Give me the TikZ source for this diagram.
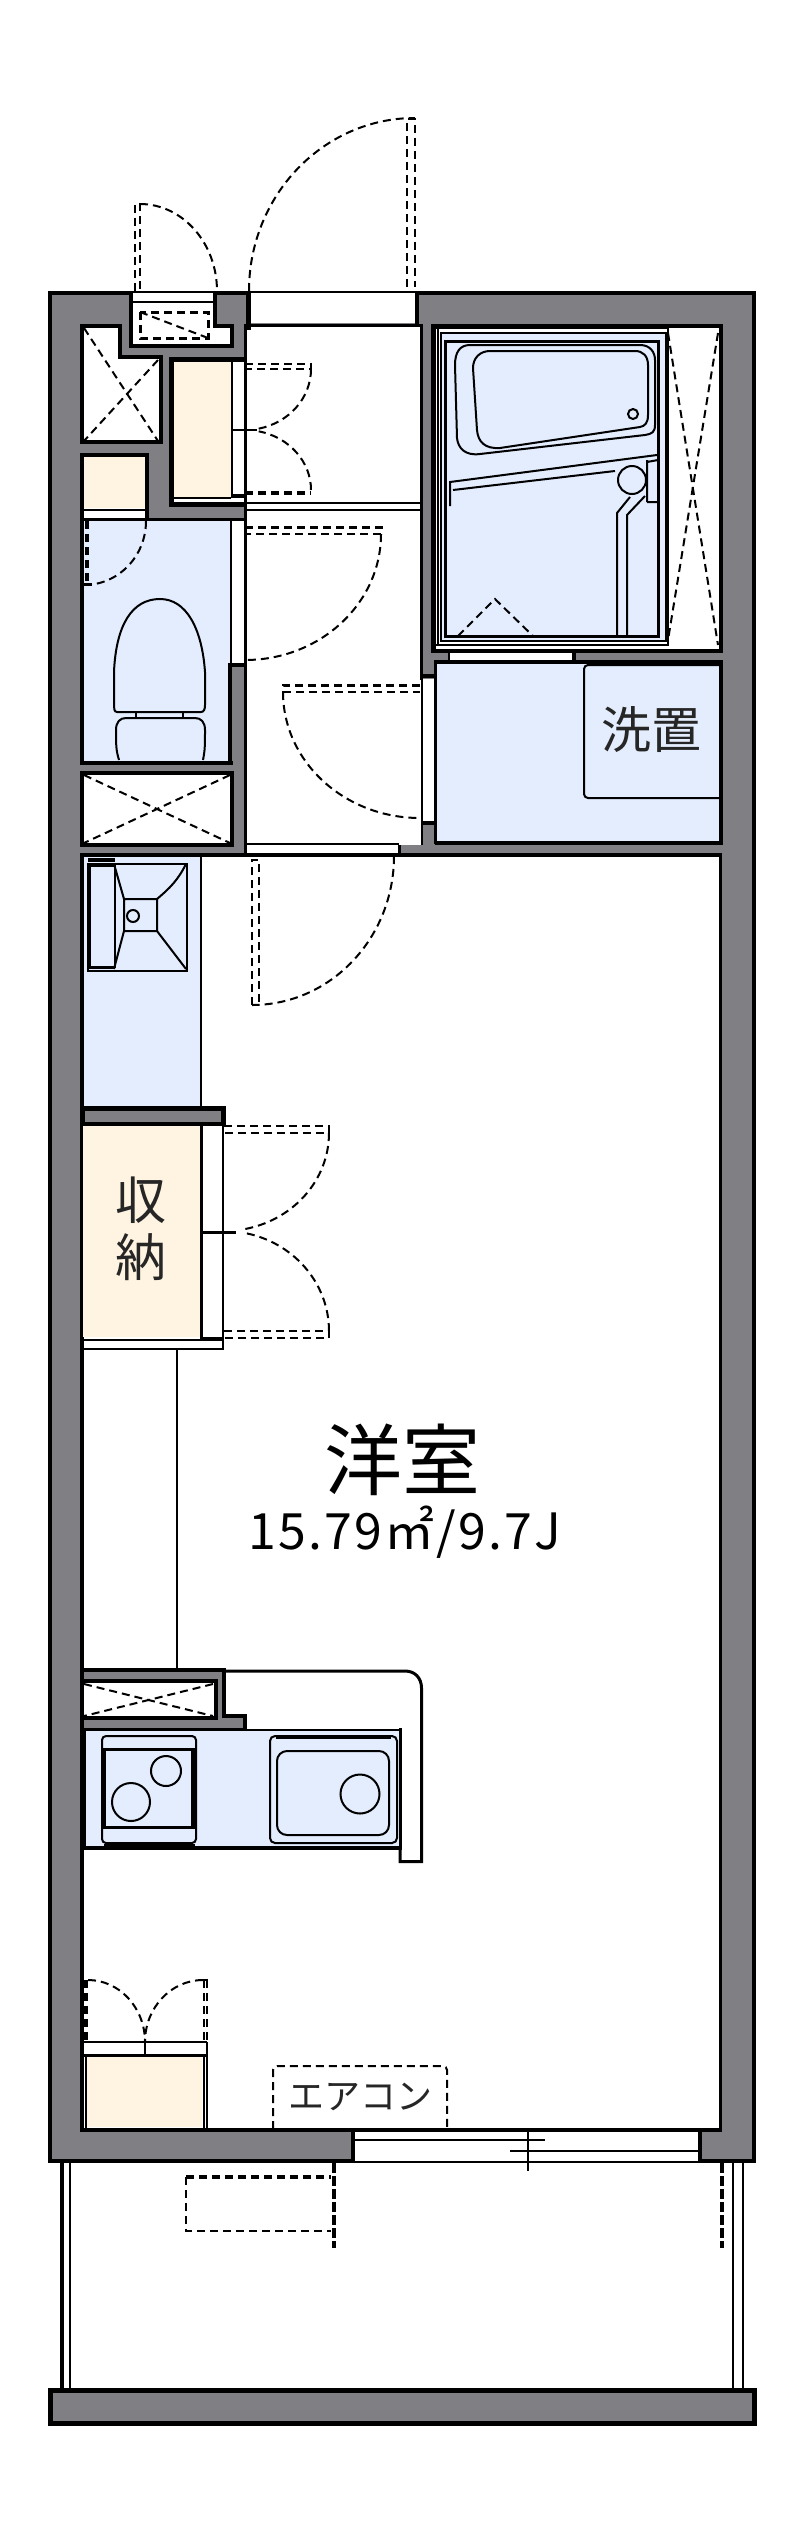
\documentclass[tikz,border=0pt]{standalone}
\usepackage{fontspec}
\newfontfamily\jp{Noto Sans CJK JP}
\newfontfamily\jpwide[LetterSpace=4.5]{Noto Sans CJK JP}
\definecolor{wallgray}{HTML}{807F84}
\definecolor{bluefl}{HTML}{E3EDFD}
\definecolor{beigefl}{HTML}{FFF4E1}
\tikzset{
  wall/.style={draw=black,line width=4pt,fill=wallgray,miter limit=10},
  room/.style={draw=black,line width=4pt,fill=white},
  thick3/.style={draw=black,line width=3pt},
  thin2/.style={draw=black,line width=2pt},
  hair/.style={draw=black,line width=1.6pt},
  dsh/.style={draw=black,line width=2pt,dash pattern=on 8pt off 5pt},
  dshthick/.style={draw=black,line width=4pt,dash pattern=on 8pt off 5pt},
  label/.style={inner sep=0pt,text=black!85,font=\jp},
}
\begin{document}
\begin{tikzpicture}[x=1pt,y=-1pt]
\path[use as bounding box,fill=white] (0,0) rectangle (800,2540);
% balcony
\draw[draw=black,line width=4pt] (62,2160) -- (62,2392);
\draw[thin2] (69.5,2160) -- (69.5,2392);
\draw[thin2] (733,2160) -- (733,2392);
\draw[thin2] (743,2160) -- (743,2392);
\draw[draw=black,line width=5pt,fill=wallgray] (50,2390.5) rectangle (754,2423.5);
% building shell
\draw[wall] (50,293) rectangle (754,2161);
% main room
\draw[room,line width=3.5pt] (82,855) rectangle (720.5,2130);
% corridor
\fill[white] (245,326) rectangle (421,845);
\draw[thick3] (245.5,324) -- (245.5,856);
\draw[thick3] (421.5,324) -- (421.5,680);
\draw[thin2] (421.5,680) -- (421.5,845);
\draw[thick3] (245,325) -- (423,325);
\draw[thin2] (245,843.5) -- (399,843.5);
\fill[white] (247,845) rectangle (398,853);
\fill[wallgray] (400,845) rectangle (424,853);
\draw[draw=black,line width=3pt] (399,845) -- (399,855);
\draw[thin2] (246,503) -- (421,503);
\draw[thin2] (246,510) -- (421,510);
% entrance opening
\fill[white] (251,293) rectangle (415,323);
\draw[thin2] (250,292) -- (416,292);
\fill[black] (246,291) rectangle (251,330);
\fill[black] (415,291) rectangle (419,325);
% meter niche
\draw[room] (131,291) -- (131,346) -- (232,346) -- (232,326) -- (215,326) -- (215,291);
\fill[white] (133,293) rectangle (213,300);
\draw[thin2] (133,302) -- (213,302);
\draw[thin2] (130,292) -- (216,292);
\draw[dsh,line width=3pt] (140,312) rectangle (208,338);
\draw[dsh] (140,312) -- (208,338);
% closet with X
\draw[room] (82,326) -- (120,326) -- (120,357) -- (161,357) -- (161,442) -- (82,442) -- cycle;
\draw[dsh] (84,328) -- (158,441);
\draw[dsh] (158,360) -- (84,441);
% shoe closet
\fill[beigefl] (174,361) rectangle (231,497);
\fill[white] (231,361) rectangle (244,502);
\fill[white] (174,497) rectangle (231,502);
\draw[draw=black,line width=5pt] (245,359) -- (171.5,359) -- (171.5,504.5) -- (245,504.5);
\draw[thin2] (231.5,361) -- (231.5,496);
\draw[thin2] (174,498) -- (231,498);
\draw[draw=black,line width=4pt] (231,495.5) -- (246,495.5);
\draw[thin2] (231,430) -- (257,430);
% beige box above toilet
\draw[room] (82,455) rectangle (147,520);
\fill[beigefl] (84,457) rectangle (145,508);
\draw[thin2] (84,509.5) -- (145,509.5);
% toilet room
\fill[bluefl] (84,521) rectangle (230,761);
\draw[draw=black,line width=3pt] (82,519.5) -- (245,519.5);
\draw[draw=black,line width=4pt] (82,519) -- (82,765) (80,763) -- (233,763);
\fill[white] (232,521) rectangle (244,664);
\draw[thin2] (231,520) -- (231,664);
\draw[draw=black,line width=4pt] (230,663) -- (230,765) (228,665) -- (245,665);
% toilet
\draw[thin2,fill=bluefl] (117,712) .. controls (114,712) and (114,708) .. (114,705) -- (114,672)
  .. controls (116,625) and (132,599) .. (160,599) .. controls (186,599) and (202,628) .. (205,672)
  -- (205,705) .. controls (205,709) and (204,712) .. (201,712) -- cycle;
\draw[thin2] (136,712) -- (136,718) (183,712) -- (183,718);
\draw[thin2,fill=bluefl] (119,760) .. controls (116,750) and (116,745) .. (116,730)
  .. controls (116,722) and (120,718) .. (126,718) -- (195,718)
  .. controls (201,718) and (205,722) .. (205,730) .. controls (205,745) and (205,750) .. (203,760);
% lower closet
\draw[room] (82,773) rectangle (232,845);
\draw[dsh] (84,775) -- (230,843);
\draw[dsh] (230,775) -- (84,843);
% vanity room
\fill[bluefl] (84,857) rectangle (200,1107);
\draw[thin2] (200.5,855) -- (200.5,1108);
\draw[draw=black,line width=4pt] (82,853) -- (82,1110);
% vanity basin
\draw[thin2] (88,864) rectangle (187,971);
\draw[draw=black,line width=4pt] (88,860) -- (115,860);
\draw[draw=black,line width=3pt] (88,967) -- (115,967);
\draw[thin2] (90,866) rectangle (115,967);
\draw[thin2] (114,864) -- (124,899) rectangle (157,931) -- (186,969);
\draw[thin2] (124,931) -- (114,969);
\draw[thin2] (124,899) -- (157,899);
\draw[thin2] (157,899) .. controls (170,888) and (178,880) .. (186,864);
\draw[thin2] (133,916) circle[radius=6];
% wall between vanity and storage
\draw[draw=black,line width=5pt,fill=wallgray] (82,1108.5) -- (223.5,1108.5) -- (223.5,1124) -- (82,1124) -- cycle;
% storage
\fill[beigefl] (83,1126) rectangle (201,1337);
\fill[white] (203,1126) rectangle (222,1337);
\fill[white] (84,1341) rectangle (222,1347);
\draw[thick3] (201.5,1124) -- (201.5,1339);
\draw[thin2] (223,1124) -- (223,1349);
\draw[thin2] (83,1348.5) -- (224,1348.5);
\draw[draw=black,line width=4pt] (201,1338.5) -- (223,1338.5);
\draw[thin2] (83,1340) -- (201,1340);
\draw[draw=black,line width=3pt] (203,1232) -- (236,1232);
\draw[thin2] (177,1349) -- (177,1668);
% kitchen stub
\draw[wall] (82,1670) -- (224,1670) -- (224,1716) -- (245,1716) -- (245,1730) -- (82,1730) -- cycle;
\draw[room] (82,1681) rectangle (215.5,1717.5);
\draw[dsh] (84,1684) -- (213,1716);
\draw[dsh] (213,1684) -- (84,1716);
% kitchen counter
\fill[bluefl] (85,1731) rectangle (399,1846);
\draw[thin2] (245,1729.5) -- (401,1729.5);
\draw[draw=black,line width=3pt] (400,1728) -- (400,1849);
\draw[draw=black,line width=4pt] (84,1848) -- (402,1848);
\draw[draw=black,line width=4pt] (84,1728) -- (84,1850);
\draw[thick3] (224,1671) -- (405,1671) .. controls (415,1671) and (421.5,1678) .. (421.5,1688) -- (421.5,1861.5) -- (400,1861.5) -- (400,1848);
% stove
\draw[thin2,rounded corners=4pt] (102,1736) rectangle (196,1843);
\draw[draw=black,line width=3pt,fill=bluefl] (104,1749) rectangle (193,1827);
\draw[draw=black,line width=4pt] (104,1748) -- (104,1828) (193,1748) -- (193,1828);
\draw[draw=black,line width=4pt] (104,1846) -- (195,1846);
\draw[thin2] (166,1771) circle[radius=15];
\draw[thin2] (131,1802) circle[radius=19];
% sink
\draw[thin2,rounded corners=5pt] (270,1736) rectangle (397,1843);
\draw[draw=black,line width=3pt] (276,1737) -- (391,1737);
\draw[thin2,rounded corners=10pt] (277,1751) rectangle (389,1835);
\draw[thin2] (360,1794) circle[radius=19.5];
% bottom-left storage
\fill[beigefl] (87,2057) rectangle (202,2127);
\fill[white] (84,2043) rectangle (206,2054);
\draw[thin2] (84,2042) -- (207,2042);
\draw[draw=black,line width=3pt] (84,2055) -- (207,2055);
\draw[thin2] (85.5,2056) -- (85.5,2128);
\draw[thin2] (203.5,2056) -- (203.5,2128);
\draw[thin2] (206.5,2042) -- (206.5,2128);
\draw[thin2] (145,2042) -- (145,2054);
% bathroom
\draw[draw=black,line width=4pt,fill=white] (433,326) rectangle (720.5,651);
\fill[white] (668,328) rectangle (718,649);
\fill[bluefl] (441,333) rectangle (667,642);
\draw[thin2] (436,328) -- (668,328) -- (668,645) -- (436,645) ;
\draw[draw=black,line width=5pt] (433,326) -- (433,651);
\draw[thin2] (438,328) rectangle (668,645);
\draw[thin2] (441,333) rectangle (666,641);
\draw[thick3] (445,341) rectangle (658,636);
\draw[dsh] (668,333) -- (718,645);
\draw[dsh] (718,333) -- (668,640);
% tub
\draw[thin2] (470,345) -- (640,345) .. controls (650,345) and (655,352) .. (655,360) -- (655,425)
   .. controls (655,432) and (652,434) .. (645,435) -- (480,454) .. controls (465,456) and (458,448) .. (457,438)
   -- (455,365) .. controls (455,352) and (460,345) .. (470,345) -- cycle;
\draw[thin2] (490,351) -- (635,351) .. controls (643,351) and (648,356) .. (648,365) -- (648,415)
   .. controls (648,423) and (645,426) .. (640,427) -- (500,448) .. controls (485,449) and (478,442) .. (477,430)
   -- (473,368) .. controls (473,358) and (480,351) .. (490,351) -- cycle;
\draw[thin2] (633,414) circle[radius=5];
\draw[thin2] (450,506) -- (450,482) -- (657,455);
\draw[thin2] (453,490) -- (615,471);
\draw[thin2,fill=bluefl] (632,480) circle[radius=14];
\draw[thin2] (647,502) -- (658,502) (647,460) -- (647,502) (647,462) -- (658,460);
\draw[thin2] (630,497) -- (617,513) -- (617,636);
\draw[thin2] (645,496) -- (627,515) -- (627,636);
\draw[dsh] (458,636) -- (495,599) -- (533,636);
% bath door strip
\fill[wallgray] (435,654) rectangle (720,661);
\fill[white] (449,653) rectangle (572,661);
\draw[draw=black,line width=4pt] (574,653) -- (574,662);
\draw[thin2] (449,653) -- (449,662);
% washroom
\fill[bluefl] (437,664) rectangle (719,841);
\draw[draw=black,line width=3.5pt] (435,662) -- (721,662);
\draw[draw=black,line width=4pt] (720.5,660) -- (720.5,845);
\draw[draw=black,line width=4pt] (435,842.5) -- (722,842.5);
\draw[draw=black,line width=3.5pt] (435.5,660) -- (435.5,844);
\fill[white] (423,679) rectangle (434,821);
\draw[thin2] (422,680) -- (422,822);
\draw[thin2] (435,680) -- (435,822);
\draw[draw=black,line width=4pt] (423,676) -- (436,676) (423,823) -- (436,823);
\draw[draw=black,line width=2pt,rounded corners=4pt] (719,665) -- (584,665) -- (584,798) -- (719,798);
% window
\fill[white] (353,2131) rectangle (700,2161);
\draw[thin2] (353,2131) -- (700,2131);
\draw[thin2] (353,2162) -- (700,2162);
\fill[black] (351,2128) rectangle (355,2163);
\fill[black] (698,2128) rectangle (702,2163);
\draw[thin2] (355,2140) -- (545,2140);
\draw[thin2] (510,2151) -- (699,2151);
\draw[thin2] (528,2131) -- (528,2171);
% door swings
\draw[dsh] (135,291) -- (135,204) -- (140,204) -- (140,291);
\draw[dsh] (140,204) arc[start angle=270,end angle=360,x radius=77,y radius=87];
\draw[dsh] (407,287) -- (407,119) -- (415,119) -- (415,287);
\draw[dsh] (249,291) arc[start angle=180,end angle=270,x radius=166,y radius=173];
\draw[dsh] (245,364) -- (311,364) -- (311,369) -- (245,369);
\draw[dsh] (311,369) arc[start angle=0,end angle=78,x radius=66,y radius=61];
\draw[dsh] (311,490) arc[start angle=0,end angle=-78,x radius=66,y radius=60];
\draw[dshthick] (245,493) -- (311,493);
\draw[dsh] (86,521) -- (86,583) (88,521) -- (88,583);
\draw[draw=black,line width=3pt] (84,584) -- (92,584);
\draw[dsh] (146,521) arc[start angle=0,end angle=90,x radius=62,y radius=64];
\draw[dsh,line width=3pt] (245,527) -- (381,527) -- (381,534);
\draw[dsh] (381,534) -- (245,534);
\draw[dsh] (381,534) arc[start angle=0,end angle=90,x radius=136,y radius=126];
\draw[dsh,line width=3pt] (420,685) -- (283,685) -- (283,692);
\draw[dsh] (283,692) -- (420,692);
\draw[dsh] (283,692) arc[start angle=180,end angle=90,x radius=137,y radius=126];
\draw[dsh] (394,856) arc[start angle=0,end angle=90,x radius=142,y radius=149];
\draw[dsh] (252,1005) -- (252,860) -- (259,860) -- (259,1005);
\draw[dsh] (224,1126) -- (329,1126) -- (329,1133) -- (224,1133);
\draw[dsh] (329,1133) arc[start angle=0,end angle=80,x radius=105,y radius=98];
\draw[dsh] (224,1331) -- (329,1331) -- (329,1338) -- (224,1338);
\draw[dsh] (329,1331) arc[start angle=0,end angle=-80,x radius=105,y radius=100];
\draw[dsh] (88,1980) arc[start angle=270,end angle=360,x radius=57,y radius=62];
\draw[dsh] (203,1980) arc[start angle=270,end angle=180,x radius=58,y radius=62];
\draw[dshthick] (86,1980) -- (86,2042);
\draw[dsh] (204,1980) -- (204,2042) (207,1980) -- (207,2042) (203,1980) -- (208,1980);
% air conditioner
\draw[dsh,rounded corners=4pt] (273,2129) -- (273,2066) -- (447,2066) -- (447,2129);
% balcony dashes
\draw[dsh,dash pattern=on 10pt off 3pt,line width=3.5pt] (334,2163) -- (334,2248);
\draw[dsh,dash pattern=on 10pt off 3pt,line width=3.5pt] (722,2163) -- (722,2248);
\draw[dsh,line width=3.5pt] (186,2177) -- (331,2177);
\draw[dsh] (186,2177) -- (186,2231) -- (331,2231);
% texts
\node[label,font=\jp\fontsize{50}{50}\selectfont] (sentaku) at (651,730) {洗置};
\node[label,font=\jp\fontsize{51}{51}\selectfont] (shuu) at (141,1200) {収};
\node[label,font=\jp\fontsize{51}{51}\selectfont] (nou) at (141,1257) {納};
\node[label,text=black,font=\jp\fontsize{78}{78}\selectfont] (youshitsu) at (402,1460) {洋室};
\node[label,text=black,font=\jpwide\fontsize{50}{50}\selectfont] (area) at (405,1532) {15.79㎡/9.7J};
\node[label,font=\jp\fontsize{36}{36}\selectfont] (aircon) at (360,2097) {エアコン};
\end{tikzpicture}
\end{document}
